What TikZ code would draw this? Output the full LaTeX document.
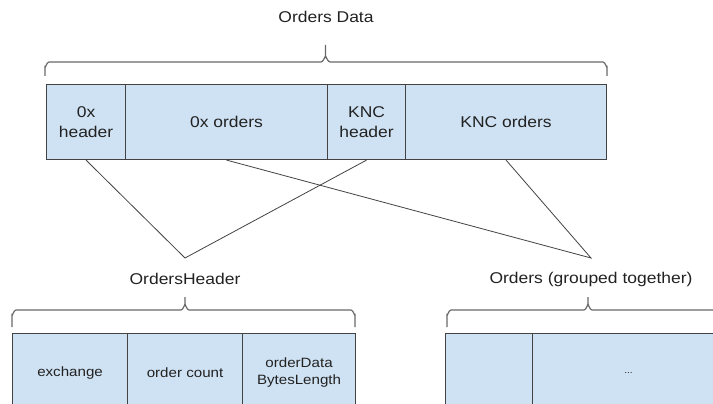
\documentclass[tikz,border=0pt]{standalone}
\usepackage{fontspec}
\setmainfont[FakeStretch=1.12]{Liberation Sans}
\definecolor{cellblue}{HTML}{CFE2F3}
\definecolor{edge}{HTML}{434343}
\definecolor{txt}{HTML}{222222}
\begin{document}
\begin{tikzpicture}[x=1pt,y=-1pt,
  cell/.style={draw=edge, fill=cellblue, line width=1.1pt, inner sep=0pt, anchor=north west,
    align=center, text=txt, font=\fontsize{15.6}{19.5}\selectfont},
  small/.style={font=\fontsize{13.5}{17.5}\selectfont},
  wire/.style={draw=edge, line width=0.8pt},
  bracestyle/.style={draw=edge!80, line width=1.2pt},
  title/.style={text=txt, font=\fontsize{15.6}{18}\selectfont, inner sep=0pt}]
\path[use as bounding box, clip] (0,0) rectangle (713,404);
\fill[white] (0,0) rectangle (713,404);

% top row
\node[cell, minimum width=79pt, minimum height=75pt] (h0) at (46,84) {0x\\header};
\node[cell, minimum width=202pt, minimum height=75pt] (o0) at (125,84) {0x orders};
\node[cell, minimum width=78pt, minimum height=75pt] (hk) at (327,84) {KNC\\header};
\node[cell, minimum width=201pt, minimum height=75pt] (ok) at (405,84) {KNC orders};

\node[title] (tdata) at (326,17) {Orders Data};

% brace top
\draw[bracestyle] (45,76) -- (45,67) to[out=-90,in=180] (49,62) -- (321,62)
  to[out=0,in=90] (325.5,57) -- (325.5,45);
\draw[bracestyle] (325.5,57) to[out=90,in=180] (330,62) -- (603,62)
  to[out=0,in=-90] (607,67) -- (607,76);

% apexes
\coordinate (ah) at (185,258);
\coordinate (ao) at (591,258);
\draw[wire] (h0.south) -- (ah) -- (hk.south);
\draw[wire] (o0.south) -- (ao) -- (ok.south);

% bottom left
\node[title] (thead) at (185,279) {OrdersHeader};
\draw[bracestyle] (12,327) -- (12,315) to[out=-90,in=180] (16,310) -- (181,310)
  to[out=0,in=90] (185,305) -- (185,297);
\draw[bracestyle] (185,305) to[out=90,in=180] (189,310) -- (351,310)
  to[out=0,in=-90] (355,315) -- (355,327);
\node[cell, small, minimum width=115pt, minimum height=78pt] (ex) at (12,333) {exchange};
\node[cell, small, minimum width=115pt, minimum height=78pt] (oc) at (127,333) {order count};
\node[cell, small, minimum width=113pt, minimum height=78pt] (bl) at (242,333) {orderData\\BytesLength};

% bottom right
\node[title] (tord) at (591,279) {Orders (grouped together)};
\draw[bracestyle] (447,327) -- (447,315) to[out=-90,in=180] (451,310) -- (584,310)
  to[out=0,in=90] (588,305) -- (588,297);
\draw[bracestyle] (588,305) to[out=90,in=180] (592,310) -- (725,310)
  to[out=0,in=-90] (729,315) -- (729,327);
\node[cell, minimum width=87pt, minimum height=78pt] (r1) at (445,333) {};
\node[cell, minimum width=192pt, minimum height=78pt, font=\fontsize{9}{11}\selectfont] (r2) at (532,333) {...};
\end{tikzpicture}
\end{document}
